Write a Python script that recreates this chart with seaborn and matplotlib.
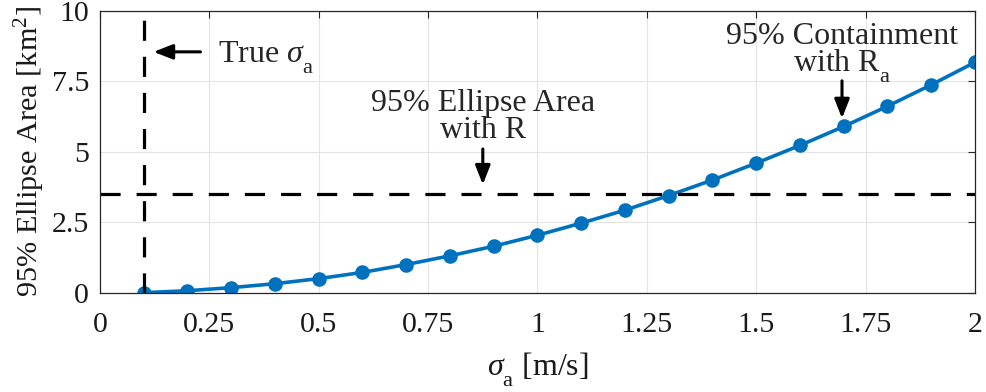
import numpy as np
import pandas as pd
import matplotlib
matplotlib.use("Agg")
import matplotlib.pyplot as plt
import seaborn as sns

sigma_a = [0.1, 0.2, 0.3, 0.4, 0.5, 0.6, 0.7, 0.8, 0.9, 1.0,
           1.1, 1.2, 1.3, 1.4, 1.5, 1.6, 1.7, 1.8, 1.9, 2.0]
area = [0.0, 0.07, 0.18, 0.32, 0.5, 0.72, 1.0, 1.31, 1.65, 2.04,
        2.47, 2.93, 3.45, 4.0, 4.6, 5.23, 5.9, 6.62, 7.38, 8.18]
ellipse_area_R = 3.5
true_sigma = 0.1
x_ticks = [0, 0.25, 0.5, 0.75, 1, 1.25, 1.5, 1.75, 2]
x_tick_labels = ["0", "0.25", "0.5", "0.75", "1", "1.25", "1.5", "1.75", "2"]
y_ticks = [0, 2.5, 5, 7.5, 10]
y_tick_labels = ["0", "2.5", "5", "7.5", "10"]

df = pd.DataFrame({"sigma": sigma_a, "area": area})

sns.set_style("whitegrid")
plt.rcParams["font.family"] = ["Liberation Serif", "DejaVu Serif"]
plt.rcParams["mathtext.fontset"] = "custom"
plt.rcParams["mathtext.rm"] = "Liberation Serif"
plt.rcParams["mathtext.it"] = "Liberation Serif:italic"

# MATLAB-style low subscripts
try:
    from matplotlib import _mathtext
    _mathtext.FontConstantsBase.sub1 = 0.75
    _mathtext.FontConstantsBase.sub2 = 0.9
except Exception:
    pass

fig = plt.figure(figsize=(9.87, 3.92), dpi=100)
ax = fig.add_axes([100 / 987, 1 - 292.7 / 392, 875 / 987, 281.7 / 392])

sns.lineplot(data=df, x="sigma", y="area", ax=ax, color="#0072BD",
             linewidth=2.6, marker="o", markersize=10.5, markeredgewidth=0)

ax.axhline(ellipse_area_R, color="black", linewidth=2.3, dashes=(6.3, 5.0))
ax.axvline(true_sigma, color="black", linewidth=2.3, dashes=(6.3, 5.0))

ax.set_xlim(0, 2)
ax.set_ylim(0, 10)
ax.set_xticks(x_ticks)
ax.set_xticklabels(x_tick_labels)
ax.set_yticks(y_ticks)
ax.set_yticklabels(y_tick_labels)
ax.tick_params(direction="in", length=5, width=0.8, color="#262626",
               labelsize=21.5, top=True, right=True, pad=14, labelcolor="#1a1a1a")
ax.tick_params(axis="y", pad=8)
ax.grid(True, color="#e3e3e3", linewidth=0.8)
for s in ax.spines.values():
    s.set_color("#262626")
    s.set_linewidth(0.9)

ax.set_xlabel(r"$\it{\sigma}_{\rm a}$ [m/s]", fontsize=23, labelpad=9, color="#1a1a1a")
ax.set_ylabel(r"95% Ellipse Area [km$^2$]", fontsize=21.8, labelpad=3, color="#1a1a1a")

arrow = dict(arrowstyle="-|>,head_length=1.15,head_width=0.45", color="black", lw=2.2)
ax.annotate("", xy=(0.116, 8.55), xytext=(0.236, 8.55), arrowprops=arrow)
ax.text(0.27, 8.15, r"True $\it{\sigma}_{\rm a}$", fontsize=23, va="baseline", ha="left")

ax.annotate("", xy=(0.875, 3.74), xytext=(0.875, 5.2), arrowprops=arrow)
ax.text(0.875, 5.25, "95% Ellipse Area\nwith R", fontsize=23, ha="center", va="bottom",
        linespacing=0.92)

ax.annotate("", xy=(1.696, 6.09), xytext=(1.696, 7.62), arrowprops=arrow)
ax.text(1.696, 7.38, "95% Containment\nwith R$_{\\rm a}$", fontsize=23, ha="center",
        va="bottom", linespacing=0.85)

fig.savefig("out.png", dpi=100)
